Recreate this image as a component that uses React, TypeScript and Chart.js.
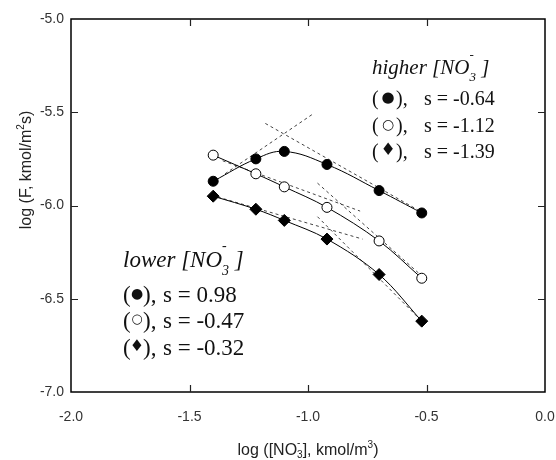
import React, { useEffect, useRef } from "react";
import { Chart, registerables } from "chart.js";

Chart.register(...registerables);

// ---- data ----
const xLogNO3 = [-1.4, -1.22, -1.1, -0.92, -0.7, -0.52];
const filledCircleF = [-5.87, -5.75, -5.71, -5.78, -5.92, -6.04];
const openCircleF = [-5.73, -5.83, -5.9, -6.01, -6.19, -6.39];
const diamondF = [-5.95, -6.02, -6.08, -6.18, -6.37, -6.62];

// tangent (slope) lines, dashed
const fitLowerFilledX = [-1.35, -0.98];
const fitLowerFilledY = [-5.83, -5.51];
const fitHigherFilledX = [-1.18, -0.5];
const fitHigherFilledY = [-5.56, -6.05];
const fitLowerOpenX = [-1.36, -0.78];
const fitLowerOpenY = [-5.76, -6.03];
const fitHigherOpenX = [-0.96, -0.5];
const fitHigherOpenY = [-5.88, -6.4];
const fitLowerDiamondX = [-1.38, -0.77];
const fitLowerDiamondY = [-5.955, -6.18];
const fitHigherDiamondX = [-0.96, -0.52];
const fitHigherDiamondY = [-6.06, -6.62];

const xTickValues = [-2.0, -1.5, -1.0, -0.5, 0.0];
const yTickValues = [-7.0, -6.5, -6.0, -5.5, -5.0];

const higherLabel = "higher [NO";
const lowerLabel = "lower [NO";
const higherSlopes = ["-0.64", "-1.12", "-1.39"];
const lowerSlopes = ["0.98", "-0.47", "-0.32"];
const markerGlyphs = ["\u25CF", "\u25CB", "\u2666"];

const xTitleParts = ["log ([NO", "3", "-", "], kmol/m", "3", ")"];
const yTitleParts = ["log (F, kmol/m", "2", "s)"];

const toPts = (xs: number[], ys: number[]) => xs.map((x, i) => ({ x, y: ys[i] }));

type Run = { t: string; font: string; dy?: number; noAdvance?: boolean };

function runsWidth(ctx: CanvasRenderingContext2D, runs: Run[]) {
  let w = 0;
  for (const r of runs) {
    ctx.font = r.font;
    if (!r.noAdvance) w += ctx.measureText(r.t).width;
  }
  return w;
}

function drawRuns(ctx: CanvasRenderingContext2D, runs: Run[], x: number, y: number) {
  let cx = x;
  for (const r of runs) {
    ctx.font = r.font;
    ctx.fillText(r.t, cx, y + (r.dy || 0));
    if (!r.noAdvance) cx += ctx.measureText(r.t).width;
  }
  return cx;
}

const SERIF = '"Liberation Serif", "Times New Roman", serif';
const SANS = '"Liberation Sans", Arial, sans-serif';
const GLYPH = '"DejaVu Sans"';

type BlockStyle = {
  x: number;
  headerBaseline: number;
  headerSize: number;
  lineBaselines: number[];
  lineSize: number;
  glyphCenter: number;
  closeParen: number;
  sStart: number;
  glyphSizes: number[];
  glyphLift: number;
};

const higherStyle: BlockStyle = {
  x: 372,
  headerBaseline: 74,
  headerSize: 21,
  lineBaselines: [105, 132, 158],
  lineSize: 20,
  glyphCenter: 16,
  closeParen: 24,
  sStart: 52,
  glyphSizes: [15, 14, 17],
  glyphLift: 7,
};
const lowerStyle: BlockStyle = {
  x: 123,
  headerBaseline: 267,
  headerSize: 23,
  lineBaselines: [302, 328, 355],
  lineSize: 23,
  glyphCenter: 14,
  closeParen: 20,
  sStart: 40,
  glyphSizes: [14, 13, 16],
  glyphLift: 8,
};

const annotationPlugin = {
  id: "annotationPlugin",
  afterDatasetsDraw(chart: any) {
    const { ctx, chartArea: a, scales } = chart;
    const xs = scales.x;
    const ys = scales.y;
    ctx.save();
    ctx.strokeStyle = "#000";
    ctx.lineWidth = 1.5;
    ctx.strokeRect(a.left, a.top, a.right - a.left, a.bottom - a.top);
    ctx.lineWidth = 1.2;
    ctx.strokeStyle = "#222";
    const tl = 7;
    xs.ticks.forEach((t: any) => {
      const px = Math.round(xs.getPixelForValue(t.value)) + 0.5;
      if (Math.abs(px - a.left) < 2 || Math.abs(px - a.right) < 2) return;
      ctx.beginPath();
      ctx.moveTo(px, a.bottom);
      ctx.lineTo(px, a.bottom - tl);
      ctx.moveTo(px, a.top);
      ctx.lineTo(px, a.top + tl);
      ctx.stroke();
    });
    ys.ticks.forEach((t: any) => {
      const py = Math.round(ys.getPixelForValue(t.value)) + 0.5;
      if (Math.abs(py - a.top) < 2 || Math.abs(py - a.bottom) < 2) return;
      ctx.beginPath();
      ctx.moveTo(a.left, py);
      ctx.lineTo(a.left + tl, py);
      ctx.moveTo(a.right, py);
      ctx.lineTo(a.right - tl, py);
      ctx.stroke();
    });

    ctx.fillStyle = "#111";
    ctx.textBaseline = "alphabetic";
    ctx.textAlign = "left";

    const drawBlock = (label: string, slopes: string[], st: BlockStyle) => {
      const it = `italic ${st.headerSize}px ${SERIF}`;
      const itSmall = `italic ${Math.round(st.headerSize * 0.62)}px ${SERIF}`;
      drawRuns(
        ctx,
        [
          { t: label, font: it },
          { t: "-", font: itSmall, dy: -Math.round(st.headerSize * 0.72), noAdvance: true },
          { t: "3", font: itSmall, dy: Math.round(st.headerSize * 0.33) },
          { t: " ]", font: it },
        ],
        st.x,
        st.headerBaseline
      );
      const rm = `${st.lineSize}px ${SERIF}`;
      slopes.forEach((s, i) => {
        const by = st.lineBaselines[i];
        ctx.textAlign = "left";
        ctx.textBaseline = "alphabetic";
        ctx.font = rm;
        ctx.fillText("(", st.x, by);
        ctx.fillText("),", st.x + st.closeParen, by);
        ctx.fillText("s = " + s, st.x + st.sStart, by);
        ctx.font = `${st.glyphSizes[i]}px ${GLYPH}`;
        ctx.textAlign = "center";
        ctx.textBaseline = "middle";
        ctx.fillText(markerGlyphs[i], st.x + st.glyphCenter, by - st.glyphLift);
      });
      ctx.textAlign = "left";
      ctx.textBaseline = "alphabetic";
    };
    drawBlock(higherLabel, higherSlopes, higherStyle);
    drawBlock(lowerLabel, lowerSlopes, lowerStyle);

    ctx.fillStyle = "#222";
    const tf = `16px ${SANS}`;
    const tfs = `10px ${SANS}`;
    const xRuns: Run[] = [
      { t: xTitleParts[0], font: tf },
      { t: xTitleParts[2], font: tfs, dy: -9, noAdvance: true },
      { t: xTitleParts[1], font: tfs, dy: 3 },
      { t: xTitleParts[3], font: tf },
      { t: xTitleParts[4], font: tfs, dy: -7 },
      { t: xTitleParts[5], font: tf },
    ];
    const xw = runsWidth(ctx, xRuns);
    drawRuns(ctx, xRuns, (a.left + a.right) / 2 - xw / 2, 455);

    const yRuns: Run[] = [
      { t: yTitleParts[0], font: tf },
      { t: yTitleParts[1], font: tfs, dy: -7 },
      { t: yTitleParts[2], font: tf },
    ];
    const yw = runsWidth(ctx, yRuns);
    ctx.translate(31, 170);
    ctx.rotate(-Math.PI / 2);
    drawRuns(ctx, yRuns, -yw / 2, 0);
    ctx.restore();
  },
};

export default function App() {
  const canvasRef = useRef<HTMLCanvasElement | null>(null);

  useEffect(() => {
    if (!canvasRef.current) return;
    const dashed = (xs: number[], ys: number[]) => ({
      data: toPts(xs, ys),
      showLine: true,
      borderColor: "#444",
      borderWidth: 1,
      borderDash: [3, 3],
      pointRadius: 0,
      fill: false,
      order: 3,
    });
    const chart = new Chart(canvasRef.current, {
      type: "scatter",
      data: {
        datasets: [
          dashed(fitLowerFilledX, fitLowerFilledY),
          dashed(fitHigherFilledX, fitHigherFilledY),
          dashed(fitLowerOpenX, fitLowerOpenY),
          dashed(fitHigherOpenX, fitHigherOpenY),
          dashed(fitLowerDiamondX, fitLowerDiamondY),
          dashed(fitHigherDiamondX, fitHigherDiamondY),
          {
            data: toPts(xLogNO3, filledCircleF),
            showLine: true,
            tension: 0.4,
            borderColor: "#000",
            borderWidth: 1,
            pointStyle: "circle",
            pointRadius: 5,
            pointBackgroundColor: "#000",
            pointBorderColor: "#000",
            order: 1,
          },
          {
            data: toPts(xLogNO3, openCircleF),
            showLine: true,
            tension: 0.35,
            borderColor: "#000",
            borderWidth: 1,
            pointStyle: "circle",
            pointRadius: 5,
            pointBackgroundColor: "#fff",
            pointBorderColor: "#000",
            pointBorderWidth: 1,
            order: 1,
          },
          {
            data: toPts(xLogNO3, diamondF),
            showLine: true,
            tension: 0.35,
            borderColor: "#000",
            borderWidth: 1,
            pointStyle: "rectRot",
            pointRadius: 6,
            pointBackgroundColor: "#000",
            pointBorderColor: "#000",
            order: 1,
          },
        ],
      },
      options: {
        animation: false,
        responsive: true,
        maintainAspectRatio: false,
        devicePixelRatio: 1,
        layout: { padding: { left: 0, right: 11, top: 19, bottom: 0 } },
        plugins: {
          legend: { display: false },
          tooltip: { enabled: false },
        },
        scales: {
          x: {
            type: "linear",
            min: -2,
            max: 0,
            afterBuildTicks: (scale: any) => {
              scale.ticks = xTickValues.map((v) => ({ value: v }));
            },
            afterFit: (scale: any) => {
              scale.height = 68;
              scale.paddingLeft = 0;
              scale.paddingRight = 0;
            },
            ticks: {
              padding: 17,
              color: "#333",
              font: { family: SANS, size: 14 },
              maxRotation: 0,
              callback: (v: any) => Number(v).toFixed(1),
            },
            grid: { display: false, drawTicks: false },
            border: { display: false },
          },
          y: {
            type: "linear",
            min: -7,
            max: -5,
            afterBuildTicks: (scale: any) => {
              scale.ticks = yTickValues.map((v) => ({ value: v }));
            },
            afterFit: (scale: any) => {
              scale.width = 71;
              scale.paddingTop = 0;
              scale.paddingBottom = 0;
            },
            ticks: {
              padding: 7,
              color: "#333",
              font: { family: SANS, size: 14 },
              callback: (v: any) => Number(v).toFixed(1),
            },
            grid: { display: false, drawTicks: false },
            border: { display: false },
          },
        },
      },
      plugins: [annotationPlugin],
    } as any);
    return () => chart.destroy();
  }, []);

  return (
    <div
      style={{
        position: "fixed",
        left: 0,
        top: 0,
        width: 556,
        height: 460,
        background: "#fff",
      }}
    >
      <canvas ref={canvasRef} />
    </div>
  );
}
